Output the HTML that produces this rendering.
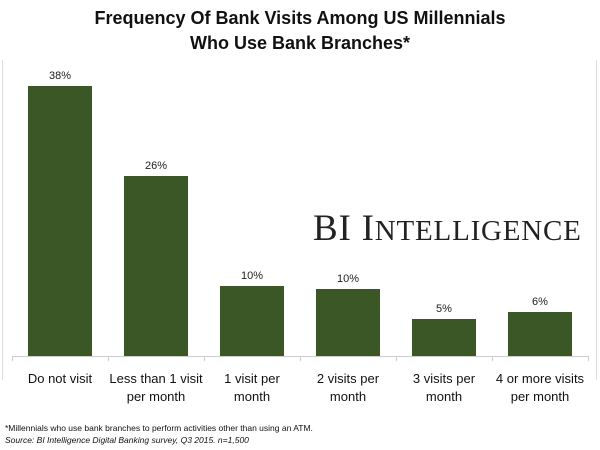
<!DOCTYPE html>
<html><head><style>
body{margin:0;width:600px;height:450px;background:#fff;position:relative;overflow:hidden;font-family:"Liberation Sans",sans-serif;}
.t{position:absolute;left:0;width:600px;text-align:center;font-weight:bold;font-size:18px;color:#111;}
.bar{position:absolute;background:#3b5725;}
.v{position:absolute;width:80px;text-align:center;font-size:11px;color:#222;}
.l{position:absolute;width:96px;text-align:center;font-size:13px;line-height:18px;color:#111;top:370px;white-space:nowrap;}
.f{position:absolute;left:5px;font-size:8.5px;color:#111;}
</style></head><body>
<div style="position:absolute;left:2px;top:60px;width:1px;height:320px;background:#ddd"></div>
<div style="position:absolute;left:596px;top:60px;width:1px;height:320px;background:#ddd"></div>
<div class="t" style="top:8px">Frequency Of Bank Visits Among US Millennials</div>
<div class="t" style="top:33px">Who Use Bank Branches*</div>
<div style="position:absolute;left:12px;top:356px;width:576px;height:1px;background:#ccc"></div>
<div style="position:absolute;left:12px;top:356px;width:1px;height:5px;background:#ccc"></div>
<div style="position:absolute;left:108px;top:356px;width:1px;height:5px;background:#ccc"></div>
<div style="position:absolute;left:204px;top:356px;width:1px;height:5px;background:#ccc"></div>
<div style="position:absolute;left:300px;top:356px;width:1px;height:5px;background:#ccc"></div>
<div style="position:absolute;left:396px;top:356px;width:1px;height:5px;background:#ccc"></div>
<div style="position:absolute;left:492px;top:356px;width:1px;height:5px;background:#ccc"></div>
<div style="position:absolute;left:588px;top:356px;width:1px;height:5px;background:#ccc"></div>
<div class="bar" style="left:28px;top:86px;width:64px;height:270px"></div>
<div class="bar" style="left:124px;top:176px;width:64px;height:180px"></div>
<div class="bar" style="left:220px;top:286px;width:64px;height:70px"></div>
<div class="bar" style="left:316px;top:289px;width:64px;height:67px"></div>
<div class="bar" style="left:412px;top:319px;width:64px;height:37px"></div>
<div class="bar" style="left:508px;top:312px;width:64px;height:44px"></div>
<div class="v" style="left:20px;top:70px">38%</div>
<div class="v" style="left:116px;top:160px">26%</div>
<div class="v" style="left:212px;top:270px">10%</div>
<div class="v" style="left:308px;top:273px">10%</div>
<div class="v" style="left:404px;top:303px">5%</div>
<div class="v" style="left:500px;top:296px">6%</div>
<div class="l" style="left:12px">Do not visit</div>
<div class="l" style="left:108px">Less than 1 visit<br>per month</div>
<div class="l" style="left:204px">1 visit per<br>month</div>
<div class="l" style="left:300px">2 visits per<br>month</div>
<div class="l" style="left:396px">3 visits per<br>month</div>
<div class="l" style="left:492px">4 or more visits<br>per month</div>
<div style="position:absolute;left:313px;top:207px;font-family:'Liberation Serif',serif;font-size:37px;color:#222;white-space:nowrap;letter-spacing:0.8px">BI I<span style="font-size:29px">NTELLIGENCE</span></div>
<div class="f" style="top:423px">*Millennials who use bank branches to perform activities other than using an ATM.</div>
<div class="f" style="top:435px;font-style:italic">Source: BI Intelligence Digital Banking survey, Q3 2015. n=1,500</div>
</body></html>
